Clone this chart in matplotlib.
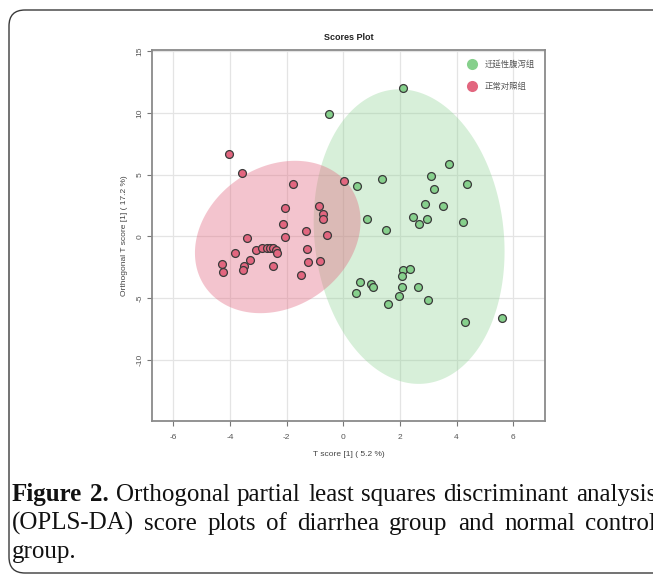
import numpy as np
import matplotlib
matplotlib.use('Agg')
import matplotlib.pyplot as plt
from matplotlib.patches import FancyBboxPatch, Polygon
from matplotlib.lines import Line2D

plt.rcParams['axes.unicode_minus'] = False
plt.rcParams['font.family'] = ['Liberation Sans', 'DejaVu Sans']

# legend labels
groups = ['迁延性腹泻组', '正常对照组']

# diarrhea group (green): T score [1], orthogonal T score [1]
diar_t = [2.12, -0.50, 0.47, 1.36, 0.83, 1.51, 0.58, 0.97, 1.06, 0.45, 1.59, 3.73, 3.10, 3.21, 4.38,
          2.87, 3.53, 2.47, 2.66, 2.95, 4.23, 2.12, 2.37, 2.07, 2.08, 2.65, 1.95, 3.00, 4.31, 5.61]
diar_o = [11.98, 9.87, 4.06, 4.62, 1.43, 0.49, -3.70, -3.84, -4.06, -4.57, -5.46, 5.89, 4.87, 3.81, 4.22,
          2.62, 2.49, 1.57, 1.03, 1.43, 1.19, -2.68, -2.65, -3.16, -4.06, -4.11, -4.81, -5.14, -6.95, -6.62]

# normal control group (red)
ctrl_t = [-4.03, -3.56, -1.79, 0.04, -2.06, -0.86, -0.73, -0.73, -2.13, -1.33, -0.59, -2.06, -3.40, -3.82,
          -3.09, -2.88, -2.70, -2.58, -2.47, -2.39, -2.34, -1.28, -3.30, -1.26, -0.81, -4.28, -3.49, -2.47,
          -4.24, -3.55, -1.49]
ctrl_o = [6.65, 5.13, 4.27, 4.46, 2.32, 2.43, 1.84, 1.43, 0.97, 0.43, 0.13, -0.05, -0.14, -1.30,
          -1.08, -0.92, -0.92, -0.92, -0.95, -1.08, -1.35, -1.00, -1.89, -2.05, -1.97, -2.22, -2.35, -2.38,
          -2.89, -2.70, -3.14]

xticks = [-6, -4, -2, 0, 2, 4, 6]
yticks = [-10, -5, 0, 5, 10, 15]

caption = [
    ['Figure', '2.', 'Orthogonal', 'partial', 'least', 'squares', 'discriminant', 'analysis'],
    ['(OPLS-DA)', 'score', 'plots', 'of', 'diarrhea', 'group', 'and', 'normal', 'control'],
    ['group.'],
]

green = '#86d08c'
red = '#e2667f'


def conf_ellipse(x, y, k=np.sqrt(-2 * np.log(0.05)), n=200):
    xy = np.column_stack([x, y])
    c = xy.mean(axis=0)
    L = np.linalg.cholesky(np.cov(xy, rowvar=False))
    t = np.linspace(0, 2 * np.pi, n)
    return c + k * (L @ np.vstack([np.cos(t), np.sin(t)])).T


fig = plt.figure(figsize=(6.53, 5.74), dpi=100)

# background layer in pixel units: border + caption + title
bg = fig.add_axes([0, 0, 1, 1], zorder=0)
bg.set_xlim(0, 653)
bg.set_ylim(574, 0)
bg.axis('off')
bg.add_patch(FancyBboxPatch((9, 10), 700, 563, boxstyle='round,pad=0,rounding_size=16',
                            fc='none', ec='#3a3a3a', lw=1.0))

renderer = fig.canvas.get_renderer()
baselines = [501, 530, 558]
for i, (words, yb) in enumerate(zip(caption, baselines)):
    items = []
    for j, w in enumerate(words):
        bold = (i == 0 and j < 2)
        items.append(bg.text(0, yb, w, fontsize=18, family='Liberation Serif',
                             fontweight='bold' if bold else 'normal',
                             color='#111111', va='baseline', ha='left'))
    widths = [t.get_window_extent(renderer).width for t in items]
    if len(items) > 1:
        gap = (656 - 12 - sum(widths)) / (len(items) - 1)
    else:
        gap = 0
    x = 12
    for t, w in zip(items, widths):
        t.set_x(x)
        x += w + gap

bg.text(348.5, 37, 'Scores Plot', fontsize=6.5, fontweight='bold',
        color='#222222', ha='center', va='center')

# main score plot
ax = fig.add_axes([152 / 653, 1 - 421 / 574, 393 / 653, 371 / 574], zorder=1)
ax.patch.set_alpha(0)

ax.add_patch(Polygon(conf_ellipse(diar_t, diar_o), closed=True, fc=green, alpha=0.33, ec='none', zorder=1))
ax.add_patch(Polygon(conf_ellipse(ctrl_t, ctrl_o), closed=True, fc=red, alpha=0.38, ec='none', zorder=1))

ax.scatter(diar_t, diar_o, s=32, c=green, edgecolors='#3a3a3a', linewidths=0.9, zorder=3)
ax.scatter(ctrl_t, ctrl_o, s=32, c=red, edgecolors='#3a3a3a', linewidths=0.9, zorder=3)

ax.set_xlim(-6.75, 7.12)
ax.set_ylim(-14.92, 15.08)
ax.set_xticks(xticks)
ax.set_yticks(yticks)
ax.grid(color='#e4e4e4', lw=0.9)
ax.set_axisbelow(True)
for s in ax.spines.values():
    s.set_color('#8a8a8a')
    s.set_linewidth(1.3)
ax.tick_params(length=3.5, width=0.8, color='#777777', labelsize=6, labelcolor='#555555')
ax.tick_params(axis='x', pad=6)
ax.tick_params(axis='y', pad=2.5)
for lab in ax.get_yticklabels():
    lab.set_rotation(90)
    lab.set_va('center')

ax.set_xlabel('T score [1] ( 5.2 %)', fontsize=6, color='#444444', labelpad=7)
ax.set_ylabel('Orthogonal T score [1] ( 17.2 %)', fontsize=6, color='#444444', labelpad=6)

handles = [Line2D([], [], ls='none', marker='o', ms=8, mfc=c, mec='none') for c in (green, red)]
leg = ax.legend(handles, groups, loc='upper right', bbox_to_anchor=(1.0, 1.0), frameon=False,
                prop={'family': ['Noto Sans CJK SC', 'DejaVu Sans'], 'size': 6},
                labelcolor='#555555', handletextpad=0.9, labelspacing=1.6, borderaxespad=0.8,
                handlelength=1.2)

fig.savefig('out.png', dpi=100)
